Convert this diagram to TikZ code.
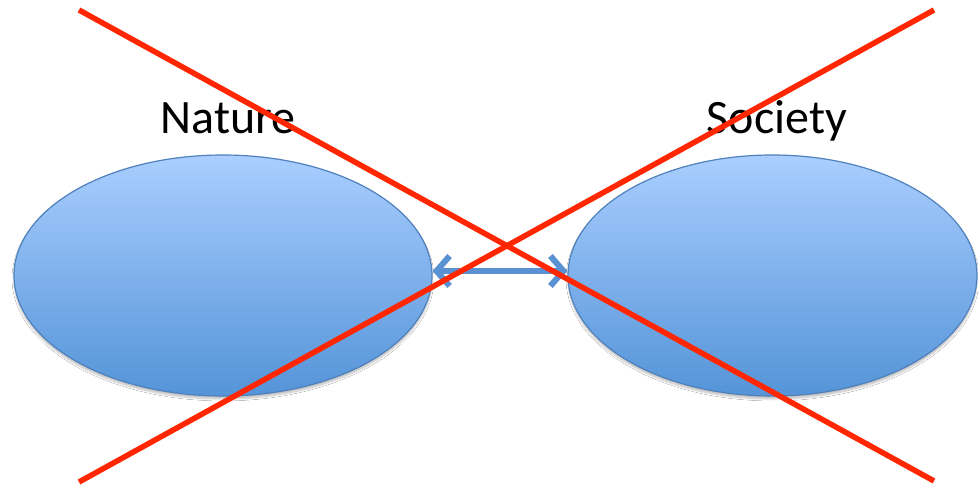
\documentclass[tikz,border=0pt]{standalone}
\usepackage{fontspec}
\setmainfont{Carlito}
\usetikzlibrary{shapes.geometric,arrows.meta,shadows.blur}
\definecolor{elltop}{RGB}{170,206,255}
\definecolor{ellbot}{RGB}{84,148,216}
\definecolor{ellline}{RGB}{79,129,189}
\definecolor{arrowcol}{RGB}{90,145,210}
\definecolor{crossred}{RGB}{255,38,0}
\tikzset{
  sphere/.style={ellipse, draw=ellline, line width=1.2pt, top color=elltop, bottom color=ellbot,
    inner sep=0pt, minimum width=#1, minimum height=241pt,
    blur shadow={shadow xshift=0pt, shadow yshift=-3pt, shadow opacity=25, shadow blur steps=6}},
  label/.style={font=\fontsize{48}{52}\selectfont, anchor=base, inner sep=0pt},
  link/.style={draw=arrowcol, line width=6pt, {Straight Barb[length=13pt,width=30pt,line width=6pt]}-{Straight Barb[length=13pt,width=30pt,line width=6pt]}},
  cross/.style={draw=crossred, line width=5.5pt},
}
\begin{document}
\begin{tikzpicture}[x=1pt,y=-1pt]
\useasboundingbox[fill=white] (0,0) rectangle (978,489);
\node[sphere=418pt] (nature) at (223,275.5) {};
\node[sphere=409pt] (society) at (772.5,275.5) {};
\node[label] (tnature) at (228,134) {Nature};
\node[label] (tsociety) at (777,134) {Society};
\draw[link] ([yshift=4.5pt]nature.east) -- ([yshift=4.5pt]society.west);
\coordinate (a1) at (79,10);
\coordinate (a2) at (934,481);
\coordinate (b1) at (79,482);
\coordinate (b2) at (934,10);
\draw[cross] (a1) -- (a2);
\draw[cross] (b1) -- (b2);
\end{tikzpicture}
\end{document}
